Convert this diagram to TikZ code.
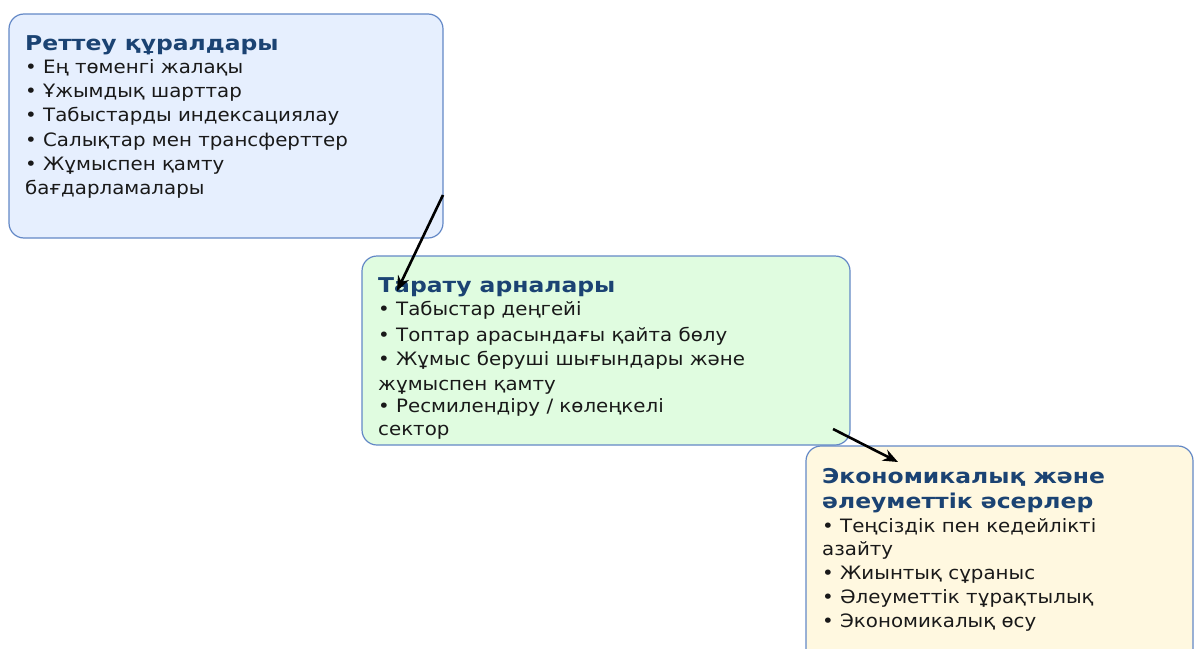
\documentclass[tikz,border=0pt]{standalone}
\usepackage{fontspec}
\setmainfont{DejaVu Sans}
\newfontfamily\bodyf[FakeStretch=1.076]{DejaVu Sans}
\newfontfamily\titlef[FakeStretch=1.15]{DejaVu Sans}
\usetikzlibrary{arrows.meta}
\definecolor{bordc}{HTML}{6388C6}
\definecolor{fillA}{HTML}{E6EFFE}
\definecolor{fillB}{HTML}{E0FCE0}
\definecolor{fillC}{HTML}{FFF8E0}
\definecolor{titc}{HTML}{1B4373}
\tikzset{
  panel/.style={draw=bordc, line width=1.2pt, rounded corners=15pt},
  ttl/.style={anchor=base west, inner sep=0pt, text=titc, font=\titlef\fontsize{20.4}{24}\selectfont\bfseries},
  itm/.style={anchor=base west, inner sep=0pt, text=black!90, font=\bodyf\fontsize{18.4}{22}\selectfont},
  conn/.style={line width=2.6pt, -{Stealth[length=15pt,width=12pt]}}
}
\begin{document}
\begin{tikzpicture}[x=1pt,y=-1pt]
\useasboundingbox (0,0) rectangle (1194,648);
% boxes
\draw[panel, fill=fillA] (9,14) rectangle (443,238);
\draw[panel, fill=fillB] (362,256) rectangle (850,445);
\draw[panel, fill=fillC] (806,446) rectangle (1193,670);
% box 1
\node[ttl] (t1) at (25,50) {Реттеу құралдары};
\node[itm] (a1) at (25,73) {• Ең төменгі жалақы};
\node[itm] (a2) at (25,97) {• Ұжымдық шарттар};
\node[itm] (a3) at (25,121) {• Табыстарды индексациялау};
\node[itm] (a4) at (25,146) {• Салықтар мен трансферттер};
\node[itm] (a5) at (25,170) {• Жұмыспен қамту};
\node[itm] (a6) at (25,194) {бағдарламалары};
% box 2
\node[ttl] (t2) at (378,292) {Тарату арналары};
\node[itm] (b1) at (378,315) {• Табыстар деңгейі};
\node[itm] (b2) at (378,341) {• Топтар арасындағы қайта бөлу};
\node[itm] (b3) at (378,365) {• Жұмыс беруші шығындары және};
\node[itm] (b4) at (378,390) {жұмыспен қамту};
\node[itm] (b5) at (378,412) {• Ресмилендіру / көлеңкелі};
\node[itm] (b6) at (378,435) {сектор};
% box 3
\node[ttl] (t3) at (822,483) {Экономикалық және};
\node[ttl] (t3b) at (822,508) {әлеуметтік әсерлер};
\node[itm] (c1) at (822,532) {• Теңсіздік пен кедейлікті};
\node[itm] (c2) at (822,555) {азайту};
\node[itm] (c3) at (822,579) {• Жиынтық сұраныс};
\node[itm] (c4) at (822,603) {• Әлеуметтік тұрақтылық};
\node[itm] (c5) at (822,627) {• Экономикалық өсу};
% connectors
\coordinate (s1) at (443,195);
\coordinate (e1) at (397,291);
\coordinate (s2) at (833,429);
\coordinate (e2) at (898,462);
\draw[conn] (s1) -- (e1);
\draw[conn] (s2) -- (e2);
\end{tikzpicture}
\end{document}
